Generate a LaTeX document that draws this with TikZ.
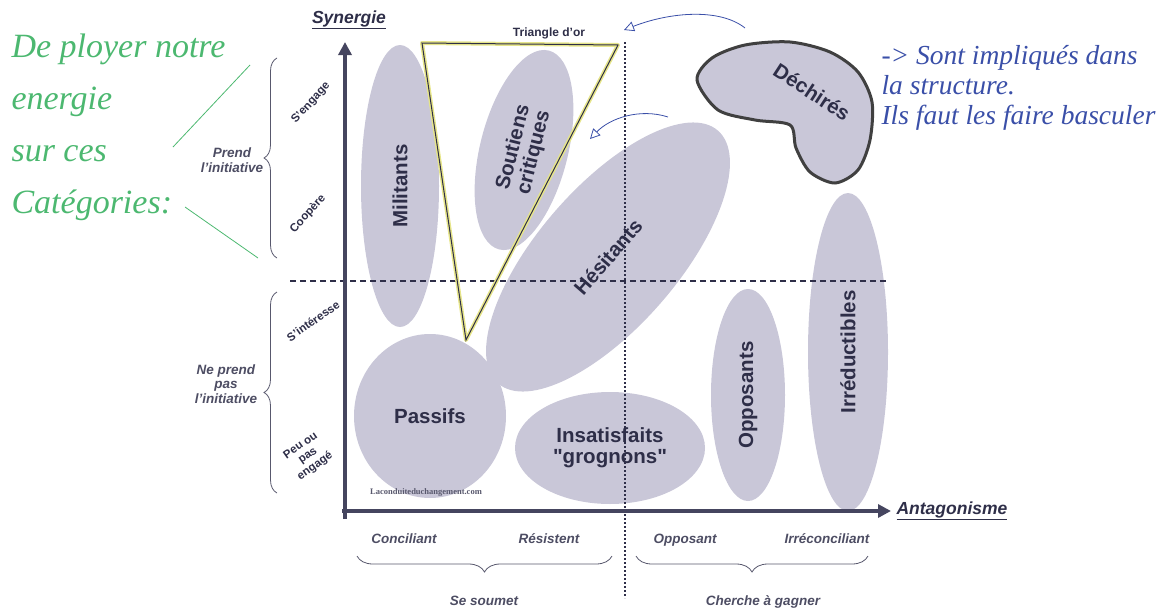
\documentclass[tikz,border=0pt]{standalone}
\usepackage{fontspec}
\setmainfont{Liberation Sans}
\newfontfamily\handfont{Liberation Serif}
\newfontfamily\markfont{Liberation Serif}
\usepackage{xcolor}
\usepackage{tikz}
\usetikzlibrary{positioning,arrows.meta,shapes.geometric,decorations.pathreplacing}

\definecolor{axisc}{HTML}{45455F}
\definecolor{blobc}{HTML}{C9C7D8}
\definecolor{inkc}{HTML}{2E2E48}
\definecolor{greenink}{HTML}{4CB870}
\definecolor{blueink}{HTML}{3A4FA8}
\definecolor{goldc}{HTML}{E6E58A}

\begin{document}
\begin{tikzpicture}[x=1pt, y=-1pt,
  blob/.style={ellipse, fill=blobc, inner sep=0pt, text=inkc, align=center,
               font=\fontsize{20.5}{21}\selectfont\bfseries},
  axis/.style={line width=3.5pt, draw=axisc, -{Triangle[length=13pt,width=13pt]}},
  axlabel/.style={font=\fontsize{17.5}{18}\selectfont\bfseries\itshape, text=inkc},
  tag/.style={font=\fontsize{11.5}{12.5}\selectfont\bfseries, text=inkc, align=center},
  side/.style={font=\fontsize{13.5}{14.5}\selectfont\bfseries\itshape, text=inkc!85, align=center},
  low/.style={side, anchor=base},
  brc/.style={decorate, decoration={brace, amplitude=13pt}, draw=inkc!80, thick},
  hand/.style={font=\handfont\itshape\fontsize{34}{52}\selectfont, align=left, anchor=north west},
  note/.style={-{Triangle[open,length=10pt,width=10pt]}, draw=blueink, thick}]

\useasboundingbox (0,0) rectangle (1176,608);

% The groups, as soft ellipses.
\node[blob, minimum width=282pt, minimum height=78pt, rotate=90] (militants) at (400,186) {Militants};
\node[blob, minimum width=205pt, minimum height=88pt, rotate=76] (soutiens) at (524,150) {Soutiens\\critiques};
\node[blob, minimum width=335pt, minimum height=140pt, rotate=49] (hesitants) at (608,257) {Hésitants};
\node[blob, minimum width=152pt, minimum height=164pt] (passifs) at (430,416) {Passifs};
\node[blob, minimum width=190pt, minimum height=112pt] (insatisfaits) at (610,448)
  {Insatisfaits\\\textquotedbl grognons\textquotedbl};
\node[blob, minimum width=212pt, minimum height=74pt, rotate=90] (opposants) at (748,395) {Opposants};
\node[blob, minimum width=318pt, minimum height=80pt, rotate=90] (irreductibles) at (848,352) {Irréductibles};

% Déchirés: the blob circled by hand.
\draw[line width=3pt, draw=black!75, fill=blobc]
  plot[smooth cycle] coordinates {(697,80) (712,58) (745,45) (790,42) (830,52) (858,72)
    (872,102) (870,140) (858,170) (835,183) (810,172) (796,148) (790,125) (755,120) (718,110)};
\node[blob, fill=none, rotate=-33] (dechires) at (812,92) {Déchirés};

\node[font=\markfont\bfseries\fontsize{8.5}{9}\selectfont, text=inkc!80] (site) at (426,492) {Laconduiteduchangement.com};

% Quadrants.
\coordinate (hl) at (290,281);
\coordinate (hr) at (888,281);
\coordinate (vt) at (625,42);
\coordinate (vb) at (625,598);
\draw[line width=1.3pt, draw=inkc, dash pattern=on 6pt off 4pt] (hl) -- (hr);
\draw[line width=1.6pt, draw=inkc, dash pattern=on 2pt off 2pt] (vt) -- (vb);

% Axes.
\coordinate (o) at (345,519);
\coordinate (ytop) at (345,42);
\coordinate (xo) at (342,511);
\coordinate (xend) at (891,511);
\draw[axis] (o) -- (ytop);
\draw[axis] (xo) -- (xend);
\node[axlabel] (synergie) at (349,20) {\underline{Synergie}};
\node[axlabel, right=2pt of xend] (antagonisme) {\underline{Antagonisme}};

% Triangle d'or.
\coordinate (ta) at (422,43);
\coordinate (tb) at (618,45);
\coordinate (tc) at (466,340);
\draw[goldc, line width=4pt, line join=round] (ta) -- (tb) -- (tc) -- cycle;
\draw[inkc, line width=1pt] (ta) -- (tb) -- (tc) -- cycle;
\node[tag, font=\fontsize{12}{12}\selectfont\bfseries] (triangle) at (549,33) {Triangle d'or};

% Left: levels of synergy.
\node[tag, rotate=48] (sengage) at (311,103) {S'engage};
\node[tag, rotate=48] (coopere) at (308,214) {Coopère};
\node[tag, rotate=35] (sinteresse) at (313,321) {S'intéresse};
\node[tag, rotate=35] (peu) at (308,456) {Peu ou\\pas\\engagé};
\coordinate (b1s) at (277,258);
\coordinate (b1e) at (277,58);
\coordinate (b2s) at (277,493);
\coordinate (b2e) at (277,292);
\draw[brc] (b1s) -- (b1e);
\draw[brc] (b2s) -- (b2e);
\node[side] (prend) at (232,160) {Prend\\l'initiative};
\node[side] (neprend) at (226,384) {Ne prend\\pas\\l'initiative};

% Bottom: levels of antagonism.
\node[low] (conciliant) at (404,543) {Conciliant};
\node[low] (resistent) at (549,543) {Résistent};
\node[low] (opposant) at (685,543) {Opposant};
\node[low] (irreconciliant) at (827,543) {Irréconciliant};
\coordinate (b3s) at (612,556);
\coordinate (b3e) at (357,556);
\coordinate (b4s) at (868,556);
\coordinate (b4e) at (636,556);
\draw[brc, decoration={amplitude=16pt}] (b3s) -- (b3e);
\draw[brc, decoration={amplitude=16pt}] (b4s) -- (b4e);
\node[low] (soumet) at (484,605) {Se soumet};
\node[low] (gagner) at (763,605) {Cherche à gagner};

% Handwritten notes.
\node[hand, text=greenink] (deployer) at (8,30) {De ployer notre\\energie\\sur ces\\Catégories:};
\coordinate (g1a) at (250,65);
\coordinate (g1b) at (173,147);
\coordinate (g2a) at (185,207);
\coordinate (g2b) at (258,258);
\draw[greenink, thick] (g1a) -- (g1b);
\draw[greenink, thick] (g2a) -- (g2b);

\node[hand, text=blueink, font=\handfont\itshape\fontsize{27.5}{30}\selectfont] (impliques) at (878,42)
  {-> Sont impliqués dans\\la structure.\\Ils faut les faire basculer};
\coordinate (n1a) at (745,28);
\coordinate (n1b) at (624,30);
\coordinate (n2a) at (668,117);
\coordinate (n2b) at (590,139);
\draw[note] (n1a) .. controls (720,8) and (670,12) .. (n1b);
\draw[note] (n2a) .. controls (640,108) and (610,118) .. (n2b);
\end{tikzpicture}
\end{document}
